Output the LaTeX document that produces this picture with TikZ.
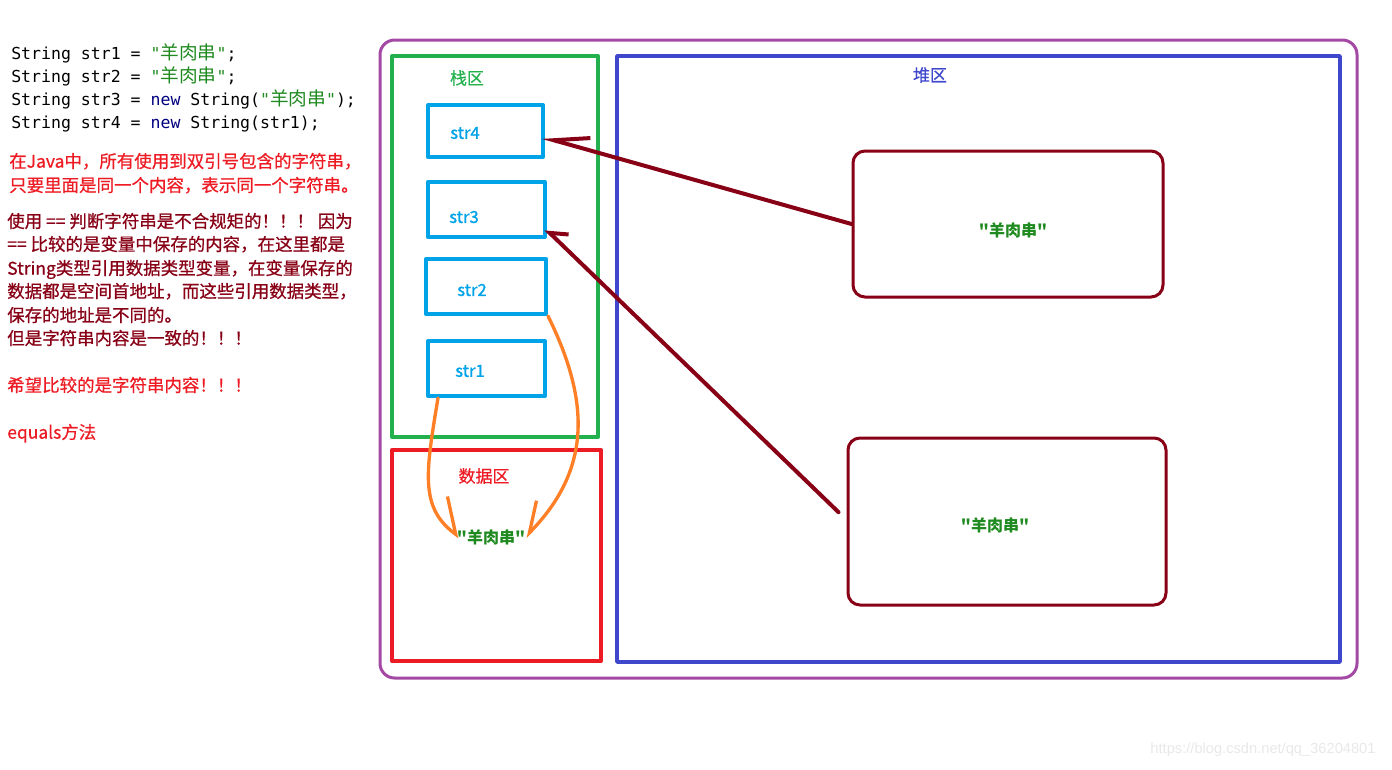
\documentclass[tikz,border=0pt]{standalone}
\usepackage{fontspec}
\setmainfont{Noto Sans CJK SC}
\newfontfamily\codefont{DejaVu Sans Mono}
\newfontfamily\cjkfont{Noto Sans CJK SC}
\newfontfamily\notefont{Noto Sans CJK SC}[FakeBold=0.7]
\newfontfamily\titlefont{Noto Sans CJK SC}[FakeBold=0.5]
\newfontfamily\cellfont{Noto Sans CJK SC}[FakeBold=1.2]
\newfontfamily\webfont{Liberation Sans}
\usepackage{xcolor}
\usepackage{tikz}
\usetikzlibrary{arrows.meta}
\definecolor{areapurple}{HTML}{A349A4}
\definecolor{stackgreen}{HTML}{22B14C}
\definecolor{heapblue}{HTML}{3F48CC}
\definecolor{poolred}{HTML}{ED1C24}
\definecolor{cellcyan}{HTML}{00A2E8}
\definecolor{darkmaroon}{HTML}{880015}
\definecolor{paintorange}{HTML}{FF7F27}
\definecolor{strgreen}{HTML}{1F8A1F}
\definecolor{kwblue}{HTML}{00007F}
\newcommand{\javastr}[1]{{\color{strgreen}"{\cjkfont\fontsize{14}{14}\selectfont #1}"}}
\newcommand{\javakw}[1]{{\color{kwblue}#1}}
\tikzset{
    every picture/.style={line cap=round,line join=round},
    region/.style={draw,line width=3pt,inner sep=0pt},
    refcell/.style={draw=cellcyan,line width=3pt,inner sep=0pt},
    cellname/.style={text=cellcyan,inner sep=0pt,font=\cellfont\fontsize{12.5}{14}\selectfont},
    heapobj/.style={draw=darkmaroon,line width=2.25pt,rounded corners=9pt,inner sep=0pt},
    strval/.style={text=strgreen,inner sep=0pt,font=\cjkfont\fontsize{12}{14}\selectfont\bfseries},
    areatitle/.style={inner sep=0pt,font=\titlefont\fontsize{12.75}{15}\selectfont},
    refarrow/.style={draw=darkmaroon,line width=3pt},
    poolarrow/.style={draw=paintorange,line width=2.5pt},
    codeline/.style={anchor=west,inner sep=0pt,text height=9pt,text depth=2.5pt,
      font=\codefont\fontsize{12.4}{14}\selectfont},
    noteline/.style={anchor=west,inner sep=0pt,text height=11.6pt,text depth=1.6pt,
      font=\notefont\fontsize{13.1}{16}\selectfont}
}

\begin{document}
\begin{tikzpicture}[x=0.75pt,y=-0.75pt]
  \useasboundingbox (0,0) rectangle (1392,769);
  % java code
  \node[codeline] (code1) at (11,55) {String str1 = \javastr{羊肉串};};
  \node[codeline] (code2) at (11,78) {String str2 = \javastr{羊肉串};};
  \node[codeline] (code3) at (11,101) {String str3 = \javakw{new} String(\javastr{羊肉串});};
  \node[codeline] (code4) at (11,124) {String str4 = \javakw{new} String(str1);};
  % notes
  \node[noteline,text=poolred] (rule1) at (9,161) {在Java中，所有使用到双引号包含的字符串，};
  \node[noteline,text=poolred] (rule2) at (9,185) {只要里面是同一个内容，表示同一个字符串。};
  \foreach \t/\y [count=\i] in {{使用 == 判断字符串是不合规矩的！！！ 因为}/221,
      {== 比较的是变量中保存的内容，在这里都是}/244,
      {String类型引用数据类型变量，在变量保存的}/268,
      {数据都是空间首地址，而这些引用数据类型，}/291,
      {保存的地址是不同的。}/315,
      {但是字符串内容是一致的！！！}/338} {
    \node[noteline,text=darkmaroon] (why\i) at (7,\y) {\t};
  }
  \node[noteline,text=poolred] (wish) at (7,385) {希望比较的是字符串内容！！！};
  \node[noteline,text=poolred] (equals) at (7,432) {equals方法};

  % memory areas
  \node[region,draw=areapurple,line width=2.25pt,rounded corners=11pt,
    minimum width=732.75pt,minimum height=478.5pt] (memory) at (868.5,359) {};
  \node[region,draw=stackgreen,minimum width=154.5pt,minimum height=285.75pt] (stack) at (495,246.5) {};
  \node[region,draw=heapblue,line width=2.6pt,minimum width=542.25pt,minimum height=454.5pt] (heap) at (978.5,359) {};
  \node[region,draw=poolred,minimum width=156.75pt,minimum height=158.25pt] (pool) at (496.5,555.5) {};
  \node[areatitle,text=stackgreen] (stacktitle) at (467,78) {栈区};
  \node[areatitle,text=heapblue] (heaptitle) at (930,75) {堆区};
  \node[areatitle,text=poolred] (pooltitle) at (484,476) {数据区};

  % references on the stack
  \foreach \n/\cx/\cy/\w/\h/\lx/\ly in {4/485.5/131/86.25/39/465/133,
      3/486.5/209.5/87.75/41.25/464/217,2/486/286.5/90/41.25/472/290,
      1/486.5/368.5/87.75/41.25/470/371} {
    \node[refcell,minimum width=\w pt,minimum height=\h pt] (str\n) at (\cx,\cy) {};
    \node[cellname] (name\n) at (\lx,\ly) {str\n};
  }

  % objects
  \node[heapobj,minimum width=232.5pt,minimum height=109.5pt] (obj1) at (1008,224) {};
  \node[strval] (obj1val) at (1013,230) {"羊肉串"};
  \node[heapobj,minimum width=238.5pt,minimum height=125.25pt] (obj2) at (1007,521.5) {};
  \node[strval] (obj2val) at (995,525) {"羊肉串"};
  \node[strval] (lit) at (491,537) {"羊肉串"};

  % arrows
  \draw[refarrow,-{Straight Barb[harpoon,swap,length=26pt,width=18pt]}]
    (obj1.west) -- ([xshift=-2pt,yshift=-4.5pt]str4.east);
  \draw[refarrow,-{Straight Barb[harpoon,swap,length=11pt,width=18pt]}]
    ([xshift=-6pt,yshift=7pt]obj2.west) -- ([xshift=-1pt,yshift=7.5pt]str3.south east);
  \draw[poolarrow,-{Straight Barb[harpoon,length=22pt,width=38pt]}]
    ([xshift=9pt]str1.south west) .. controls +(-12,73) and +(-40,-30) .. ([xshift=2pt]lit.west);
  \draw[poolarrow,-{Straight Barb[harpoon,swap,length=21pt,width=26pt]}]
    (str2.south east) .. controls +(43,87) and +(65,-67) .. (lit.east);

  \node[text=black!9,inner sep=0pt,font=\webfont\fontsize{11}{13}\selectfont] (mark) at (1263,750)
    {https://blog.csdn.net/qq\_36204801};
\end{tikzpicture}
\end{document}
